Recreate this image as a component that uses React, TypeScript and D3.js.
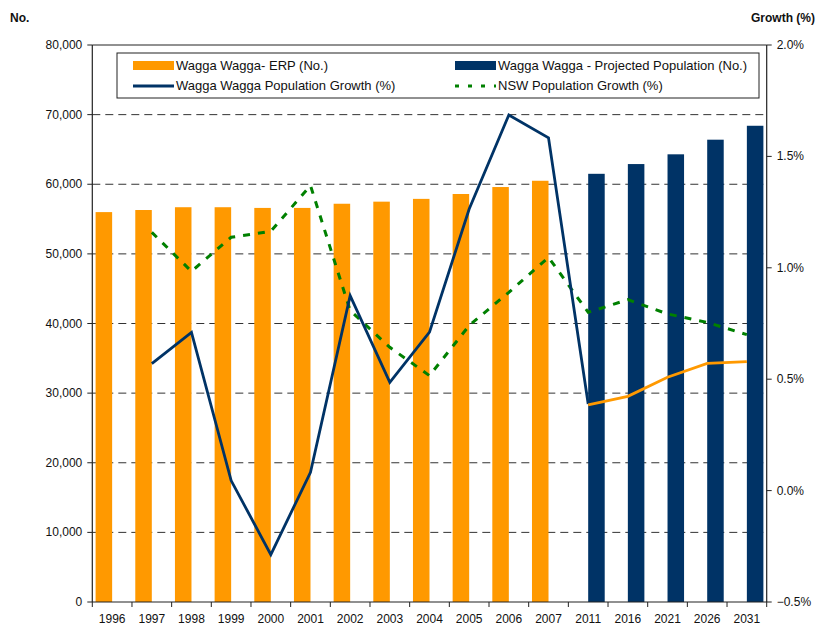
import React from 'react';
import * as d3 from 'd3';

const years = ['1996', '1997', '1998', '1999', '2000', '2001', '2002', '2003', '2004', '2005', '2006', '2007', '2011', '2016', '2021', '2026', '2031'];
// population (No.)
const erp = [56000, 56300, 56700, 56700, 56600, 56600, 57200, 57500, 57900, 58600, 59600, 60500, null, null, null, null, null];
const projected = [null, null, null, null, null, null, null, null, null, null, null, null, 61500, 62900, 64300, 66400, 68400];
// growth (%)
const waggaGrowth = [null, 0.57, 0.71, 0.045, -0.287, 0.082, 0.875, 0.486, 0.711, 1.264, 1.686, 1.583, 0.389, null, null, null, null];
const waggaProjGrowth = [null, null, null, null, null, null, null, null, null, null, null, null, 0.385, 0.423, 0.509, 0.571, 0.579];
const nswGrowth = [null, 1.159, 0.984, 1.137, 1.164, 1.369, 0.808, 0.643, 0.516, 0.741, 0.89, 1.047, 0.8, 0.857, 0.793, 0.755, 0.7];
const leftTicks = [0, 10000, 20000, 30000, 40000, 50000, 60000, 70000, 80000];
const rightTicks = [-0.5, 0, 0.5, 1.0, 1.5, 2.0];

const ORANGE = '#FF9900';
const NAVY = '#003366';
const GREEN = '#008000';
const FONT = 'Liberation Sans, Arial, sans-serif';

const App = () => {
  const left = 92.3;
  const right = 766.7;
  const top = 45;
  const bottom = 602;

  const x = d3.scaleBand().domain(years).range([left, right]).padding(0);
  const sub = d3.scaleBand().domain(['erp', 'proj']).range([0, x.bandwidth()]).paddingInner(0).paddingOuter(0.2);
  const yL = d3.scaleLinear().domain([0, 80000]).range([bottom, top]);
  const yR = d3.scaleLinear().domain([-0.5, 2.0]).range([bottom, top]);
  const fmt = d3.format(',');
  const pct = d3.format('.1f');

  const line = d3
    .line<number | null>()
    .defined((d) => d !== null)
    .x((_, i) => x(years[i])! + x.bandwidth() / 2)
    .y((d) => yR(d as number));

  return (
    <svg width={818} height={626} style={{ position: 'absolute', left: 0, top: 0, background: '#fff' }} fontFamily={FONT}>
      {/* grid */}
      {leftTicks.slice(1, -1).map((t) => (
        <line key={t} x1={left} x2={right} y1={yL(t)} y2={yL(t)} stroke="#333" strokeWidth={1} strokeDasharray="8,5" />
      ))}
      <line x1={left} x2={right} y1={top} y2={top} stroke="#222" strokeWidth={1} />

      {/* bars */}
      {erp.map((v, i) =>
        v === null ? null : (
          <rect key={`e${i}`} x={x(years[i])! + sub('erp')!} width={sub.bandwidth()} y={yL(v)} height={bottom - yL(v)} fill={ORANGE} />
        )
      )}
      {projected.map((v, i) =>
        v === null ? null : (
          <rect key={`p${i}`} x={x(years[i])! + sub('proj')!} width={sub.bandwidth()} y={yL(v)} height={bottom - yL(v)} fill={NAVY} />
        )
      )}

      {/* lines */}
      <path d={line(nswGrowth) ?? ''} fill="none" stroke={GREEN} strokeWidth={3} strokeDasharray="7,8" />
      <path d={line(waggaGrowth) ?? ''} fill="none" stroke={NAVY} strokeWidth={2.8} />
      <path d={line(waggaProjGrowth) ?? ''} fill="none" stroke={ORANGE} strokeWidth={2.8} />

      {/* axes */}
      <line x1={left} x2={left} y1={top} y2={bottom} stroke="#222" strokeWidth={1.2} />
      <line x1={right} x2={right} y1={top} y2={bottom} stroke="#222" strokeWidth={1.2} />
      <line x1={left} x2={right} y1={bottom} y2={bottom} stroke="#222" strokeWidth={1.2} />
      {leftTicks.map((t) => (
        <g key={t}>
          <line x1={left - 5} x2={left} y1={yL(t)} y2={yL(t)} stroke="#222" />
          <text x={left - 10} y={yL(t) + 4} fontSize={12} textAnchor="end" fill="#111">
            {fmt(t)}
          </text>
        </g>
      ))}
      {rightTicks.map((t) => (
        <g key={t}>
          <line x1={right} x2={right + 5} y1={yR(t)} y2={yR(t)} stroke="#222" />
          <text x={right + 10} y={yR(t) + 4} fontSize={12} fill="#111">
            {`${pct(t)}%`}
          </text>
        </g>
      ))}
      {years.map((yr, i) => (
        <g key={yr}>
          <line x1={x(yr)!} x2={x(yr)!} y1={bottom} y2={bottom + 5} stroke="#222" />
          {i === years.length - 1 && <line x1={right} x2={right} y1={bottom} y2={bottom + 5} stroke="#222" />}
          <text x={x(yr)! + x.bandwidth() / 2} y={bottom + 21} fontSize={12} textAnchor="middle" fill="#111">
            {yr}
          </text>
        </g>
      ))}
      <text x={10} y={22} fontSize={12} fontWeight="bold" fill="#111">No.</text>
      <text x={815} y={22} fontSize={12} fontWeight="bold" textAnchor="end" fill="#111">Growth (%)</text>

      {/* legend */}
      <rect x={117} y={53} width={642} height={45} fill="#fff" stroke="#222" strokeWidth={1} />
      <rect x={133} y={61} width={41} height={9} fill={ORANGE} />
      <text x={176} y={70} fontSize={13} fill="#111">Wagga Wagga- ERP (No.)</text>
      <rect x={455} y={61} width={41} height={9} fill={NAVY} />
      <text x={498} y={70} fontSize={13} fill="#111">Wagga Wagga - Projected Population (No.)</text>
      <line x1={133} x2={174} y1={86} y2={86} stroke={NAVY} strokeWidth={2.8} />
      <text x={176} y={90} fontSize={13} fill="#111">Wagga Wagga Population Growth (%)</text>
      <line x1={455} x2={496} y1={86} y2={86} stroke={GREEN} strokeWidth={3} strokeDasharray="4,9" />
      <text x={498} y={90} fontSize={13} fill="#111">NSW Population Growth (%)</text>
    </svg>
  );
};

export default App;
